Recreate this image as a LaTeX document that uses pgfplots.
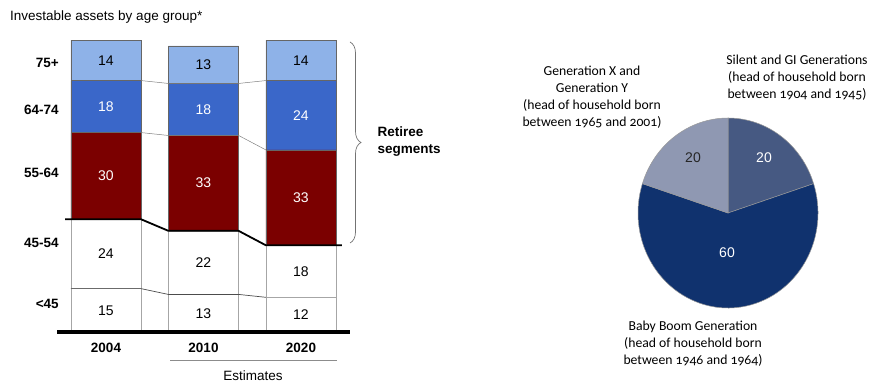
\documentclass[border=0pt]{standalone}
\usepackage{pgfplots}
\usepackage{pgfplotstable}
\pgfplotsset{compat=1.18}
\usepackage{fontspec}
\setmainfont{Liberation Sans}
\newfontfamily\piefont[Numbers=OldStyle]{Carlito}
\usetikzlibrary{decorations.pathreplacing}

\definecolor{ageA}{RGB}{142,178,232}
\definecolor{ageB}{RGB}{58,103,201}
\definecolor{ageC}{RGB}{123,0,0}
\definecolor{genSilent}{RGB}{70,89,130}
\definecolor{genBoom}{RGB}{16,50,110}
\definecolor{genXY}{RGB}{143,152,178}

% share of investable assets (%) by age group of head of household
\pgfplotstableread{
x  u45  a4554  a5564  a6474  a75
0  15   24     30     18     14
1  13   22     33     18     13
2  12   18     33     24     14
}\assets

% generational shares (%)
\def\shSilent{20}
\def\shBoom{60}
\def\shXY{20}

\pgfplotsset{
  seg/.style n args={3}{
    fill=#1, draw=#2, line width=0.5pt,
    visualization depends on={\thisrow{#3}\as\segval},
  },
}

\begin{document}
\begin{tikzpicture}[x=1pt,y=1pt]
\useasboundingbox (0,0) rectangle (873,385);

\node[anchor=base west, inner sep=0pt, font=\fontsize{13.5}{15}\selectfont]
  at (10,364) {Investable assets by age group*};

% stacked bars
\begin{axis}[
  at={(57.25pt,53pt)}, anchor=south west,
  scale only axis, width=292.5pt, height=289pt,
  xmin=-0.5, xmax=2.5, ymin=0, ymax=100,
  enlargelimits=false, clip=false,
  ybar stacked, bar width=0.72,
  axis line style={draw=none},
  major tick length=0pt,
  /pgf/number format/assume math mode=true,
  xtick={0,1,2}, xticklabels={2004,2010,2020},
  ytick={9.7,30.8,55,76.8,93},
  yticklabels={{<45},{45-54},{55-64},{64-74},{75+}},
  ticklabel style={font=\bfseries\fontsize{13.5}{15}\selectfont},
  xticklabel style={yshift=-8pt},
  yticklabel style={xshift=5pt},
  nodes near coords={\pgfmathprintnumber{\segval}},
  every node near coord/.append style={anchor=center,
    font=\fontsize{14}{16}\selectfont},
]
\addplot[seg={white}{black!35}{u45}] table[x=x,y=u45]{\assets};
\addplot[seg={white}{black!35}{a4554}] table[x=x,y=a4554]{\assets};
\addplot[seg={ageC}{black!60}{a5564}, nodes near coords={\color{white}\pgfmathprintnumber{\segval}}] table[x=x,y=a5564]{\assets};
\addplot[seg={ageB}{black!60}{a6474}, nodes near coords={\color{white}\pgfmathprintnumber{\segval}}] table[x=x,y=a6474]{\assets};
\addplot[seg={ageA}{black!60}{a75}] table[x=x,y=a75]{\assets};
\end{axis}

% boundaries between segments, carried from bar to bar
\begin{axis}[
  at={(57.25pt,53pt)}, anchor=south west,
  scale only axis, width=292.5pt, height=289pt,
  xmin=-0.5, xmax=2.5, ymin=0, ymax=100,
  enlargelimits=false, clip=false, hide axis,
]
\addplot[black!50, line width=0.5pt] coordinates {(0.36,87) (0.64,86) (1.36,86) (1.64,87)};
\addplot[black!50, line width=0.5pt] coordinates {(0.36,69) (0.64,68) (1.36,68) (1.64,63)};
\addplot[black!70, line width=0.7pt] coordinates {(-0.36,15) (0.36,15) (0.64,13) (1.36,13) (1.64,12)};
\addplot[black, line width=1.8pt] coordinates {(-0.42,39) (0.36,39) (0.64,35) (1.36,35) (1.64,30) (2.42,30)};
\addplot[black, line width=3.5pt] coordinates {(-0.5,0) (2.5,0)};
\addplot[black!45, line width=0.7pt] coordinates {(0.66,-9.7) (2.37,-9.7)};
\end{axis}

\node[font=\fontsize{13.5}{15}\selectfont] at (253,9) {Estimates};

\draw[black!55, line width=0.7pt, decorate, decoration={brace, amplitude=11pt}]
  (350,343) -- (350,142);
\node[anchor=west, align=left, font=\bfseries\fontsize{13.5}{17}\selectfont]
  at (374,243) {Retiree\\segments};

% pie of generational shares
\begin{axis}[
  at={(728pt,172pt)}, anchor=center,
  scale only axis, width=200pt, height=200pt,
  xmin=-100, xmax=100, ymin=-100, ymax=100,
  hide axis, clip=false,
]
\filldraw[genSilent, draw=black!40, line width=0.5pt] (axis cs:0,0) -- (axis cs:0,95)
  arc[start angle=90, delta angle={-3.6*\shSilent}, x radius=90pt, y radius=95pt] -- cycle;
\filldraw[genBoom, draw=black!40, line width=0.5pt] (axis cs:0,0) -- (axis cs:{90*cos(90-3.6*\shSilent)},{95*sin(90-3.6*\shSilent)})
  arc[start angle={90-3.6*\shSilent}, delta angle={-3.6*\shBoom}, x radius=90pt, y radius=95pt] -- cycle;
\filldraw[genXY, draw=black!40, line width=0.5pt] (axis cs:0,0) -- (axis cs:{90*cos(90-3.6*(\shSilent+\shBoom))},{95*sin(90-3.6*(\shSilent+\shBoom))})
  arc[start angle={90-3.6*(\shSilent+\shBoom)}, delta angle={-3.6*\shXY}, x radius=90pt, y radius=95pt] -- cycle;
\node[white, font=\fontsize{14}{16}\selectfont] at (axis cs:36,55) {\shSilent};
\node[white, font=\fontsize{14}{16}\selectfont] at (axis cs:-1,-40) {\shBoom};
\node[black!85, font=\fontsize{14}{16}\selectfont] at (axis cs:-35,55) {\shXY};
\end{axis}

\node[align=center, text=black, font=\piefont\fontsize{13.7}{17}\selectfont] at (592,287.5)
  {Generation X and\\Generation Y\\(head of household born\\between 1965 and 2001)};
\node[align=center, text=black, font=\piefont\fontsize{13.7}{17}\selectfont] at (797,307)
  {Silent and GI Generations\\(head of household born\\between 1904 and 1945)};
\node[align=center, text=black, font=\piefont\fontsize{13.7}{17}\selectfont] at (693,41)
  {Baby Boom Generation\\(head of household born\\between 1946 and 1964)};
\end{tikzpicture}
\end{document}
